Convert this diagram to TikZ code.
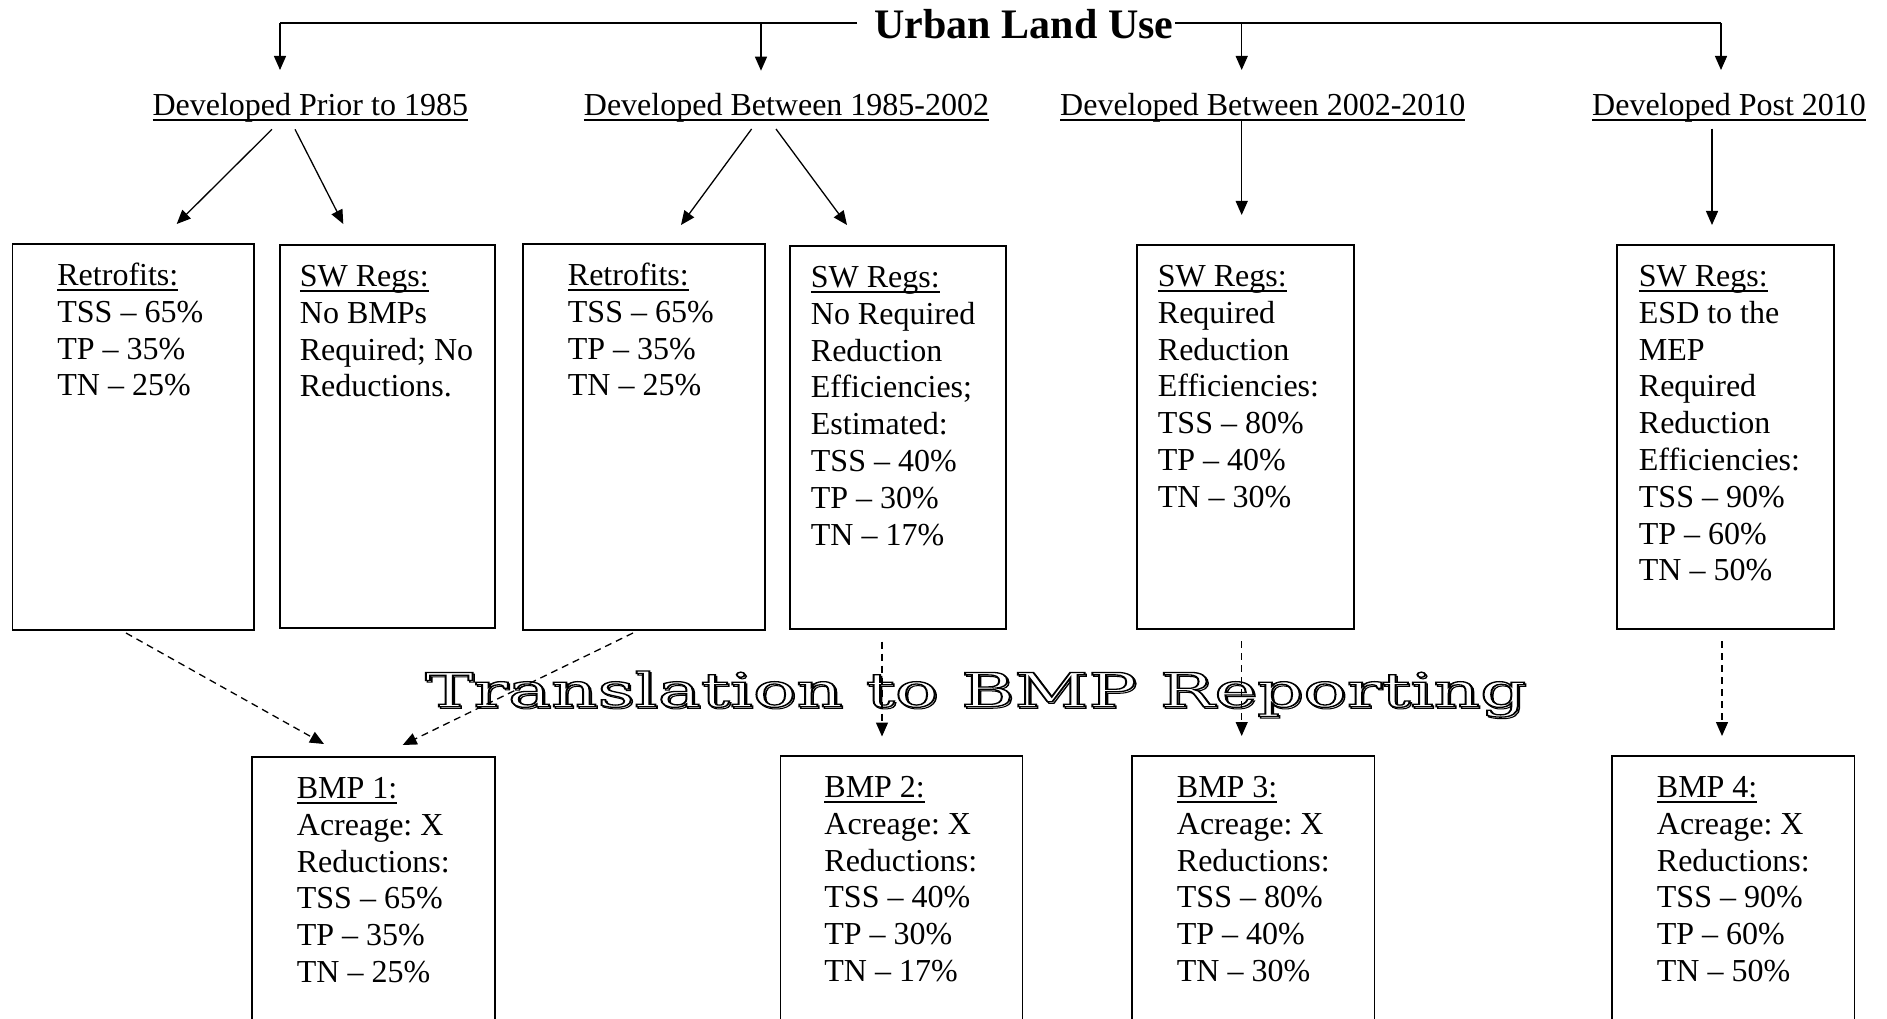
\documentclass[tikz,border=0pt]{standalone}
\usepackage{fontspec}
\setmainfont{Liberation Serif}
\newfontfamily\outfont{DejaVu Serif}
\usepackage{graphicx}
\usetikzlibrary{arrows.meta}
\frenchspacing
\newsavebox{\ulnbox}
\newcommand{\uln}[1]{\sbox{\ulnbox}{#1}\rlap{\rule[-5.3pt]{\wd\ulnbox}{1.8pt}}\usebox{\ulnbox}}
\newcommand{\boxtxt}[4]{\begin{minipage}[t][#2pt][t]{#1pt}\frenchspacing\raggedright\leftskip=#3pt\relax\rule{0pt}{41.5pt}#4\end{minipage}}
\newcommand{\outlS}[1]{\special{pdf:literal direct 1 Tr 1 w}#1\special{pdf:literal direct 0 Tr}}
\newcommand{\outlW}[1]{\special{pdf:literal direct 2 Tr 1 1 1 rg 1.3 w}#1\special{pdf:literal direct 0 Tr 0 0 0 rg}}
\newcommand{\shadowtext}[1]{\rlap{\kern1pt\raisebox{-1.6pt}{\outlS{#1}}}\outlW{#1}}
\tikzset{
  boxn/.style={draw, line width=1.8pt, inner sep=0pt, anchor=north west},
  hdr/.style={anchor=base west, inner sep=0pt},
  conn/.style={line width=1.3pt, -{Triangle[length=14pt,width=12pt]}},
  dconn/.style={conn, dash pattern=on 7pt off 5pt},
  rail/.style={line width=2pt},
}
\begin{document}
\begin{tikzpicture}[x=1pt, y=-1pt, font=\fontsize{32pt}{36.8pt}\selectfont]
\clip (0,0) rectangle (1887,1019);
\fill[white] (0,0) rectangle (1887,1019);

% title and rail
\node[anchor=base, inner sep=0pt, font=\bfseries\fontsize{42pt}{48pt}\selectfont] (title) at (1024,38.3) {Urban Land Use};
\coordinate (hl) at (857,23.3);
\coordinate (hr) at (1175,23.3);
\coordinate (h1) at (280,23.3);   \coordinate (d1) at (280,70);
\coordinate (h2) at (761,23.3);   \coordinate (d2) at (761,70.7);
\coordinate (h3) at (1241.7,23.3);\coordinate (d3) at (1241.7,70);
\coordinate (h4) at (1721,23.3);  \coordinate (d4) at (1721,70);
\draw[rail] (hl) -- (h1);
\draw[rail] (hr) -- (h4);
\draw[conn] (h1) -- (d1);
\draw[conn] (h2) -- (d2);
\draw[conn] (h3) -- (d3);
\draw[conn] (h4) -- (d4);

% headers
\node[hdr] (lab1) at (152.3,115.7) {\uln{Developed Prior to 1985}};
\node[hdr] (lab2) at (583.7,115.7) {\uln{Developed Between 1985-2002}};
\node[hdr] (lab3) at (1060,115.7) {\uln{Developed Between 2002-2010}};
\node[hdr] (lab4) at (1592,115.7) {\uln{Developed Post 2010}};

% upper boxes
\node[boxn] (ret1) at (11.5,243) {\boxtxt{241.5}{386}{45}{\uln{Retrofits:}\\TSS – 65\%\\TP – 35\%\\TN – 25\%}};
\node[boxn] (sw1) at (279,244) {\boxtxt{215}{383}{20}{\uln{SW Regs:}\\No BMPs\\Required; No\\Reductions.}};
\node[boxn] (ret2) at (522,243) {\boxtxt{242}{386}{45}{\uln{Retrofits:}\\TSS – 65\%\\TP – 35\%\\TN – 25\%}};
\node[boxn] (sw2) at (789,245) {\boxtxt{216}{383}{21}{\uln{SW Regs:}\\No Required\\Reduction\\Efficiencies;\\Estimated:\\TSS – 40\%\\TP – 30\%\\TN – 17\%}};
\node[boxn] (sw3) at (1136,244) {\boxtxt{217}{384}{21}{\uln{SW Regs:}\\Required\\Reduction\\Efficiencies:\\TSS – 80\%\\TP – 40\%\\TN – 30\%}};
\node[boxn] (sw4) at (1616,244) {\boxtxt{217}{384}{22}{\uln{SW Regs:}\\ESD to the\\MEP\\Required\\Reduction\\Efficiencies:\\TSS – 90\%\\TP – 60\%\\TN – 50\%}};

% header -> box arrows
\coordinate (a1s) at (272,129.3);   \coordinate (a1e) at (176.7,224);
\coordinate (a2s) at (295,129.3);   \coordinate (a2e) at (343.3,224);
\coordinate (a3s) at (751.6,129);   \coordinate (a3e) at (681,225);
\coordinate (a4s) at (776,129);     \coordinate (a4e) at (847,225);
\coordinate (a5s) at (1241.7,120.5);\coordinate (a5e) at (1241.7,215);
\coordinate (a6s) at (1712,128.6);  \coordinate (a6e) at (1712,225);
\draw[conn] (a1s) -- (a1e);
\draw[conn] (a2s) -- (a2e);
\draw[conn] (a3s) -- (a3e);
\draw[conn] (a4s) -- (a4e);
\draw[conn] (a5s) -- (a5e);
\draw[conn] (a6s) -- (a6e);

% translation label
\node[anchor=base west, inner sep=0pt, font=\outfont\fontsize{47pt}{50pt}\selectfont] (trans) at (425,706.7) {\resizebox{1101pt}{\height}{\shadowtext{Translation to BMP Reporting}}};

% lower boxes
\node[boxn] (bmp1) at (251,756) {\boxtxt{243}{300}{45}{\uln{BMP 1:}\\Acreage: X\\Reductions:\\TSS – 65\%\\TP – 35\%\\TN – 25\%}};
\node[boxn] (bmp2) at (779.5,755) {\boxtxt{242}{300}{44}{\uln{BMP 2:}\\Acreage: X\\Reductions:\\TSS – 40\%\\TP – 30\%\\TN – 17\%}};
\node[boxn] (bmp3) at (1131,755) {\boxtxt{242.5}{300}{45}{\uln{BMP 3:}\\Acreage: X\\Reductions:\\TSS – 80\%\\TP – 40\%\\TN – 30\%}};
\node[boxn] (bmp4) at (1611,755) {\boxtxt{242.5}{300}{45}{\uln{BMP 4:}\\Acreage: X\\Reductions:\\TSS – 90\%\\TP – 60\%\\TN – 50\%}};

% dashed translation arrows
\coordinate (c1s) at (126,633);    \coordinate (c1e) at (324,744);
\coordinate (c2s) at (633,633);    \coordinate (c2e) at (402.7,745);
\coordinate (c3s) at (882,641.6);  \coordinate (c3e) at (882,736.5);
\coordinate (c4s) at (1241.7,641); \coordinate (c4e) at (1241.7,736);
\coordinate (c5s) at (1722,641);   \coordinate (c5e) at (1722,736);
\draw[dconn] (c1s) -- (c1e);
\draw[dconn] (c2s) -- (c2e);
\draw[dconn] (c3s) -- (c3e);
\draw[dconn] (c4s) -- (c4e);
\draw[dconn] (c5s) -- (c5e);
\end{tikzpicture}
\end{document}
